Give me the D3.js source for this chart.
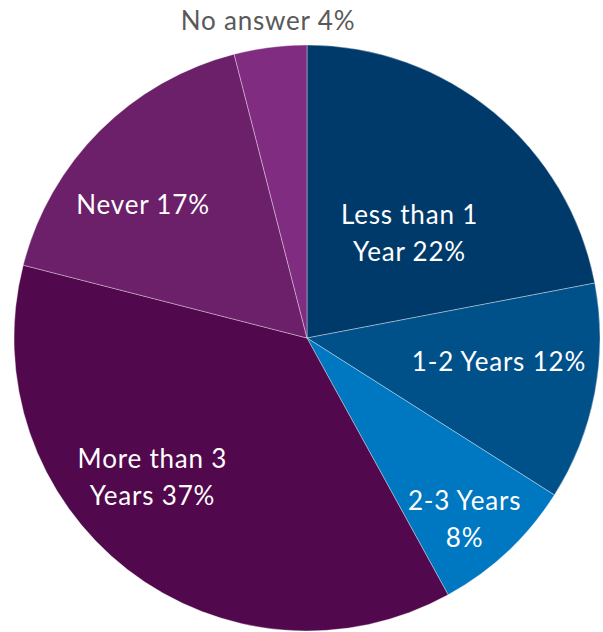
<!DOCTYPE html>
<html>
<head>
<meta charset="utf-8">
<script src="https://cdn.jsdelivr.net/npm/d3@7"></script>
<style>
html,body{margin:0;padding:0;background:#fff;}
svg{display:block;}
</style>
</head>
<body>
<svg id="chart" width="603" height="632"></svg>
<script>
const categories = ["Less than 1 Year", "1-2 Years", "2-3 Years", "More than 3 Years", "Never", "No answer"];
const values = [22, 12, 8, 37, 17, 4];
const labelLines = [["Less than 1", "Year 22%"], ["1-2 Years 12%"], ["2-3 Years", "8%"], ["More than 3", "Years 37%"], ["Never 17%"], ["No answer 4%"]];
const colors = ["#003a6b", "#00518a", "#0078c1", "#52084c", "#6c206a", "#802c80"];

// label placement (radius fraction, angle offset in degrees), layout only
const placement = [[0.50, 4.8], [0.66, -3.8], [0.82, 2.2], [0.71, 10.2], [0.72, -6], [1.092, 0.2]];

const W = 603, H = 632, cx = 307, cy = 338, R = 293;
const svg = d3.select("#chart");
const g = svg.append("g").attr("transform", `translate(${cx},${cy})`);

const data = categories.map((c, i) => ({cat: c, value: values[i], i}));
const pie = d3.pie().value(d => d.value).sort(null);
const arc = d3.arc().innerRadius(0).outerRadius(R);
const arcs = pie(data);

g.selectAll("path").data(arcs).enter().append("path")
  .attr("d", arc)
  .attr("fill", d => colors[d.data.i])
  .attr("stroke", "rgba(255,255,255,0.45)")
  .attr("stroke-width", 0.8);

const fontSize = 26, lineH = 37;
arcs.forEach(d => {
  const i = d.data.i;
  const [rf, da] = placement[i];
  const mid = (d.startAngle + d.endAngle) / 2 + da * Math.PI / 180;
  const rr = R * rf;
  const x = Math.sin(mid) * rr, y = -Math.cos(mid) * rr;
  const lines = labelLines[i];
  const t = g.append("text")
    .attr("text-anchor", "middle")
    .attr("font-family", "Lato, 'Open Sans', sans-serif")
    .attr("font-size", fontSize)
    .attr("letter-spacing", 0.8)
    .attr("fill", i === 5 ? "#595959" : "#ffffff");
  lines.forEach((ln, k) => {
    t.append("tspan")
      .attr("x", x)
      .attr("y", y + (k - (lines.length - 1) / 2) * lineH)
      .attr("dy", "0.35em")
      .text(ln);
  });
});
</script>
</body>
</html>
